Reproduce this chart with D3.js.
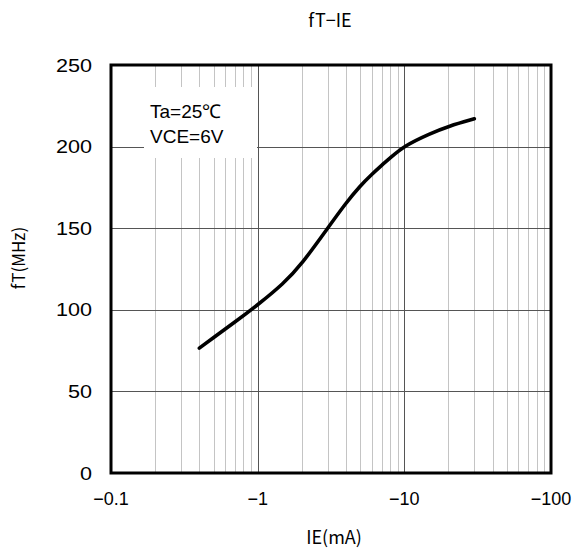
<!DOCTYPE html>
<html>
<head>
<meta charset="utf-8">
<script src="https://cdn.jsdelivr.net/npm/d3@7"></script>
<style>
  html, body { margin: 0; padding: 0; background: #fff; }
  svg { display: block; }
</style>
</head>
<body>
<div id="chart"></div>
<script>
// ---- data ----
const ieValues = [-0.4, -0.5, -0.7, -1, -1.5, -2, -3, -4, -5, -6, -7, -8, -10, -15, -20, -30];
const ftValues = [76.5, 83, 92.5, 103, 116, 128, 150, 165.5, 176, 183, 188.5, 193, 200.5, 208, 212.5, 217];
const xTickValues = [-0.1, -1, -10, -100];
const xTickLabels = ["\u22120.1", "\u22121", "\u221210", "\u2212100"];
const yTickValues = [0, 50, 100, 150, 200, 250];
const yTickLabels = ["0", "50", "100", "150", "200", "250"];
const legendLines = ["Ta=25\u2103", "VCE=6V"];
const titleText = "fT\u2212IE";
const xTitle = "IE(mA)";
const yTitle = "fT(MHz)";

const W = 575, H = 548;
const m = { left: 111, right: 551, top: 65, bottom: 473 };

const svg = d3.select("#chart").append("svg").attr("width", W).attr("height", H);

const x = d3.scaleLog().domain([0.1, 100]).range([m.left, m.right]);
const y = d3.scaleLinear().domain([0, 250]).range([m.bottom, m.top]);
const xs = v => x(Math.abs(v));

// minor vertical grid
const minor = [];
[0.1, 1, 10].forEach(d => { for (let k = 2; k <= 9; k++) minor.push(d * k); });
svg.append("g").selectAll("line").data(minor).join("line")
  .attr("x1", d => Math.round(x(d)) + 0.5).attr("x2", d => Math.round(x(d)) + 0.5)
  .attr("y1", m.top).attr("y2", m.bottom)
  .attr("stroke", "#c4c4c4").attr("stroke-width", 1);

// major vertical grid
svg.append("g").selectAll("line").data([1, 10]).join("line")
  .attr("x1", d => Math.round(x(d)) + 0.5).attr("x2", d => Math.round(x(d)) + 0.5)
  .attr("y1", m.top).attr("y2", m.bottom)
  .attr("stroke", "#555").attr("stroke-width", 1);

// horizontal grid
svg.append("g").selectAll("line").data([50, 100, 150, 200]).join("line")
  .attr("x1", m.left).attr("x2", m.right)
  .attr("y1", d => Math.round(y(d)) + 0.5).attr("y2", d => Math.round(y(d)) + 0.5)
  .attr("stroke", "#555").attr("stroke-width", 1);

// legend box
svg.append("rect").attr("x", 144).attr("y", 87).attr("width", 113).attr("height", 71).attr("fill", "#fff");
svg.append("g").selectAll("text").data(legendLines).join("text")
  .attr("x", 150).attr("y", (d, i) => 118 + i * 25)
  .attr("font-family", "'Liberation Sans', Arial, sans-serif").attr("font-size", 19)
  .attr("fill", "#000").text(d => d);

// curve
const pts = ieValues.map((v, i) => [v, ftValues[i]]);
svg.append("path").datum(pts)
  .attr("d", d3.line().x(d => xs(d[0])).y(d => y(d[1])).curve(d3.curveBasis))
  .attr("fill", "none").attr("stroke", "#000").attr("stroke-width", 3.6)
  .attr("stroke-linecap", "round").attr("stroke-linejoin", "round");

// frame
svg.append("rect").attr("x", m.left).attr("y", m.top)
  .attr("width", m.right - m.left).attr("height", m.bottom - m.top)
  .attr("fill", "none").attr("stroke", "#000").attr("stroke-width", 3);

// tick labels
const tickFont = "'Liberation Sans', Arial, sans-serif";
svg.append("g").selectAll("text").data(xTickValues).join("text")
  .attr("x", d => xs(d)).attr("y", 505).attr("text-anchor", "middle")
  .attr("font-family", tickFont).attr("font-size", 18).attr("fill", "#000")
  .text((d, i) => xTickLabels[i]);
svg.append("g").selectAll("text").data(yTickValues).join("text")
  .attr("transform", d => `translate(92,${y(d) + 6.5}) scale(1.2,1)`).attr("text-anchor", "end")
  .attr("font-family", tickFont).attr("font-size", 18).attr("fill", "#000")
  .text((d, i) => yTickLabels[i]);

// titles
const titleFont = "'Noto Sans CJK JP', 'DejaVu Sans', sans-serif";
svg.append("text").attr("x", 330).attr("y", 27).attr("text-anchor", "middle")
  .attr("font-family", titleFont).attr("font-size", 18).attr("fill", "#000").text(titleText);
svg.append("text").attr("x", 334).attr("y", 544).attr("text-anchor", "middle")
  .attr("font-family", titleFont).attr("font-size", 18).attr("fill", "#000").text(xTitle);
svg.append("text").attr("transform", "translate(25,258) rotate(-90)").attr("text-anchor", "middle")
  .attr("font-family", titleFont).attr("font-size", 17).attr("fill", "#000").text(yTitle);
</script>
</body>
</html>
